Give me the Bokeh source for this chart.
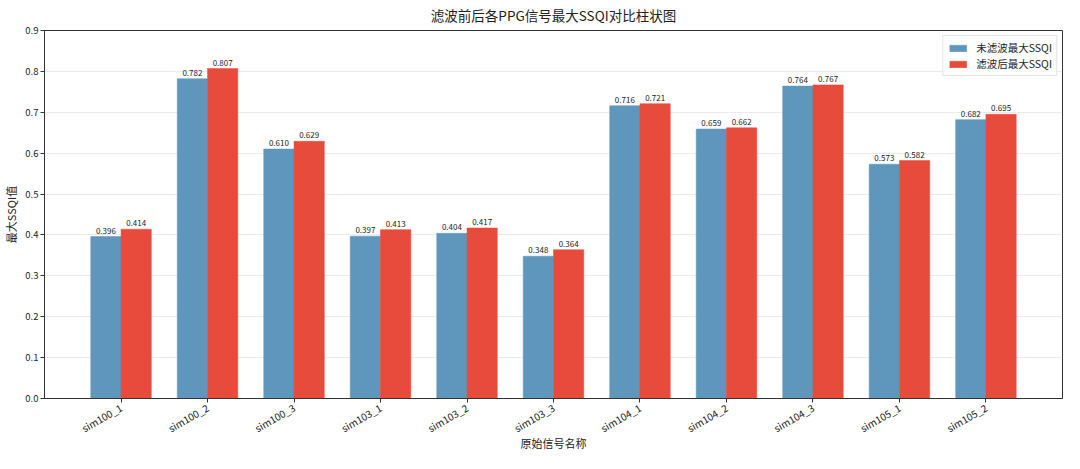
from bokeh.plotting import figure
from bokeh.models import Range1d, FixedTicker, PrintfTickFormatter, ColumnDataSource, Legend, LegendItem
from bokeh.core.properties import value
from bokeh.embed import file_html
from bokeh.resources import INLINE
import math

categories = ["sim100_1", "sim100_2", "sim100_3", "sim103_1", "sim103_2", "sim103_3",
              "sim104_1", "sim104_2", "sim104_3", "sim105_1", "sim105_2"]
before_ssqi = [0.396, 0.782, 0.610, 0.397, 0.404, 0.348, 0.716, 0.659, 0.764, 0.573, 0.682]
after_ssqi = [0.414, 0.807, 0.629, 0.413, 0.417, 0.364, 0.721, 0.662, 0.767, 0.582, 0.695]
y_ticks = [0.0, 0.1, 0.2, 0.3, 0.4, 0.5, 0.6, 0.7, 0.8, 0.9]
x_title = "原始信号名称"
y_title = "最大SSQI值"

FONT = "Noto Sans CJK SC"
BLUE = "#5f96bb"
RED = "#e74b3c"
bar_w = 0.35

idx = list(range(len(categories)))
src = ColumnDataSource(dict(
    xb=[i - bar_w / 2 for i in idx],
    xa=[i + bar_w / 2 for i in idx],
    before=before_ssqi,
    after=after_ssqi,
    lb=[f"{v:.3f}" for v in before_ssqi],
    la=[f"{v:.3f}" for v in after_ssqi],
))

x_lo, x_hi = -0.885, len(categories) - 1 + 0.885
p = figure(width=1064, height=453, output_backend="svg", toolbar_location=None,
           x_range=Range1d(x_lo, x_hi),
           y_range=Range1d(0, 0.9),
           title="滤波前后各PPG信号最大SSQI对比柱状图",
           min_border_left=30, min_border_right=2, min_border_top=24, min_border_bottom=40)

p.title.text_font = FONT
p.title.text_font_size = "13.5px"
p.title.text_font_style = "normal"
p.title.align = "center"
p.title.vertical_align = "top"
p.title.text_color = "#222222"
p.title.offset = 0
p.title.standoff = 8

rb = p.vbar(x="xb", top="before", width=bar_w, source=src, fill_color=BLUE, line_color=BLUE, line_alpha=0.5)
ra = p.vbar(x="xa", top="after", width=bar_w, source=src, fill_color=RED, line_color=RED, line_alpha=0.5)

for xcol, ycol, tcol in (("xb", "before", "lb"), ("xa", "after", "la")):
    p.text(x=xcol, y=ycol, text=tcol, source=src, text_align="center", text_baseline="bottom",
           y_offset=-3, text_font=value(FONT), text_font_size="8px", text_color="#222222")

# axes
p.xaxis.ticker = FixedTicker(ticks=idx)
p.xaxis.major_label_overrides = {i: c for i, c in enumerate(categories)}
p.xaxis.major_label_orientation = math.pi / 6
p.yaxis.ticker = FixedTicker(ticks=y_ticks)
p.yaxis.formatter = PrintfTickFormatter(format="%.1f")
p.xaxis.axis_label = x_title
p.yaxis.axis_label = y_title
for ax in (p.xaxis, p.yaxis):
    ax.axis_label_text_font = FONT
    ax.axis_label_text_font_size = "11px"
    ax.axis_label_text_font_style = "normal"
    ax.axis_label_text_color = "#222222"
    ax.major_label_text_font = FONT
    ax.major_label_text_font_size = "9.5px"
    ax.major_label_text_color = "#222222"
    ax.minor_tick_line_color = None
    ax.major_tick_in = 0
    ax.major_tick_out = 4
    ax.axis_line_color = "#333333"
    ax.major_tick_line_color = "#333333"
p.xaxis.major_label_text_font_size = "10px"
p.yaxis.major_label_standoff = 2
p.yaxis.axis_label_standoff = 3
p.xaxis.major_label_standoff = 4
p.xaxis.axis_label_standoff = -10

p.xgrid.grid_line_color = None
p.ygrid.grid_line_color = "#dddddd"
p.ygrid.grid_line_alpha = 0.6
p.outline_line_color = "#333333"
p.outline_line_alpha = 1.0

legend = Legend(items=[LegendItem(label="未滤波最大SSQI", renderers=[rb]),
                       LegendItem(label="滤波后最大SSQI", renderers=[ra])],
                location="top_right")
legend.label_text_font = FONT
legend.label_text_font_size = "10.5px"
legend.label_text_color = "#222222"
legend.glyph_width = 21
legend.glyph_height = 8
legend.label_standoff = 8
legend.spacing = 1
legend.padding = 4
legend.margin = 5
legend.border_line_color = "#cccccc"
legend.background_fill_alpha = 0.8
legend.label_height = 12
p.add_layout(legend)

open("out.html", "w").write(file_html(p, INLINE))
